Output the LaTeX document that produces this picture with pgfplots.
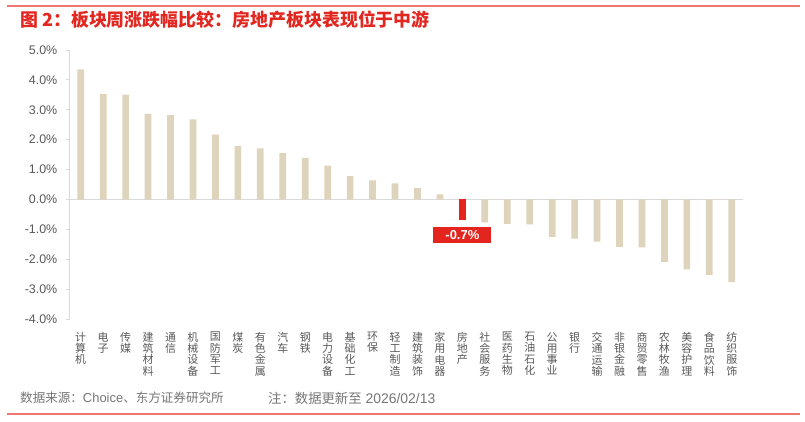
\documentclass[border=0pt]{standalone}
\usepackage{pgfplots}
\pgfplotsset{compat=1.18}
\usepackage{fontspec}
\setmainfont{Liberation Sans}
\newfontfamily\cjk{Noto Sans CJK SC}
\definecolor{barbeige}{RGB}{222,212,187}
\definecolor{barred}{RGB}{228,36,30}
\definecolor{titlered}{RGB}{226,38,32}
\definecolor{rulered}{RGB}{240,118,114}
\definecolor{axisgray}{RGB}{217,217,217}
\definecolor{labelgray}{RGB}{89,89,89}
\definecolor{notegray}{RGB}{118,118,118}

\begin{document}
\begin{tikzpicture}[x=1bp,y=1bp]
\useasboundingbox (0,0) rectangle (805,421);
\fill[white] (0,0) rectangle (805,421);
% header and footer rules
\draw[rulered, line width=1.6bp] (7,415) -- (800,415);
\draw[rulered, line width=1.6bp] (7,7) -- (800,7);
\node[anchor=west, inner sep=0, text=titlered, font=\cjk\bfseries\fontsize{18}{20}\selectfont] at (20,401.5) {图 2：板块周涨跌幅比较：房地产板块表现位于中游};

\begin{axis}[
  at={(69.5bp,102bp)}, anchor=south west,
  scale only axis, width=673.5bp, height=269bp,
  xmin=-0.5, xmax=29.5, ymin=-4, ymax=5,
  clip=false,
  axis y line*=left, axis x line*=bottom,
  x axis line style={draw=none},
  y axis line style={draw=axisgray, line width=1bp},
  xtick={0,...,29}, xtick style={draw=none},
  xticklabels={{计\\算\\机},{电\\子},{传\\媒},{建\\筑\\材\\料},{通\\信},{机\\械\\设\\备},{国\\防\\军\\工},{煤\\炭},{有\\色\\金\\属},{汽\\车},{钢\\铁},{电\\力\\设\\备},{基\\础\\化\\工},{环\\保},{轻\\工\\制\\造},{建\\筑\\装\\饰},{家\\用\\电\\器},{房\\地\\产},{社\\会\\服\\务},{医\\药\\生\\物},{石\\油\\石\\化},{公\\用\\事\\业},{银\\行},{交\\通\\运\\输},{非\\银\\金\\融},{商\\贸\\零\\售},{农\\林\\牧\\渔},{美\\容\\护\\理},{食\\品\\饮\\料},{纺\\织\\服\\饰}},
  xticklabel style={anchor=north, align=center, inner sep=0pt, yshift=-9bp, text=labelgray, font=\cjk\fontsize{11}{11.3}\selectfont},
  ytick={-4,...,5},
  yticklabels={-4.0\%,-3.0\%,-2.0\%,-1.0\%,0.0\%,1.0\%,2.0\%,3.0\%,4.0\%,5.0\%},
  yticklabel style={anchor=east, inner sep=0pt, xshift=-8bp, text=labelgray, font=\fontsize{12.5}{14}\selectfont},
  ytick style={draw=axisgray, line width=1bp},
  tick align=outside, major tick length=4bp,
]
% zero reference line
\draw[axisgray, line width=1bp] (axis cs:-0.5,0) -- (axis cs:29.5,0);

% weekly change of each sector, %
\addplot[ybar, bar width=6.7bp, bar shift=0pt, fill=barbeige, draw=none] coordinates {
  (0,4.35) (1,3.52) (2,3.51) (3,2.86) (4,2.82) (5,2.68) (6,2.17) (7,1.78)
  (8,1.71) (9,1.55) (10,1.39) (11,1.13) (12,0.78) (13,0.64) (14,0.54)
  (15,0.38) (16,0.17)
  (18,-0.77) (19,-0.82) (20,-0.83) (21,-1.25) (22,-1.31) (23,-1.41)
  (24,-1.59) (25,-1.60) (26,-2.10) (27,-2.34) (28,-2.52) (29,-2.77)
};
% real estate, highlighted
\addplot[ybar, bar width=6.7bp, bar shift=0pt, fill=barred, draw=none,
  nodes near coords={\pgfmathprintnumber[fixed,fixed zerofill,precision=1,assume math mode=true]{\pgfplotspointmeta}\%},
  nodes near coords style={anchor=north, yshift=-6.8bp, fill=barred, text=white,
    font=\bfseries\fontsize{13}{15}\selectfont, inner sep=0pt,
    minimum width=58bp, minimum height=15.6bp}
] coordinates {(17,-0.7)};
\end{axis}

% source and note
\node[anchor=west, inner sep=0, text=notegray, font=\fontsize{13}{14}\selectfont] at (20,23) {{\cjk\fontsize{12.6}{14}\selectfont 数据来源：}Choice{\cjk\fontsize{12.6}{14}\selectfont 、东方证券研究所}};
\node[anchor=west, inner sep=0, text=notegray, font=\fontsize{14}{14}\selectfont] at (268,23) {{\cjk\fontsize{13.4}{14}\selectfont 注：数据更新至} 2026/02/13};
\end{tikzpicture}
\end{document}
